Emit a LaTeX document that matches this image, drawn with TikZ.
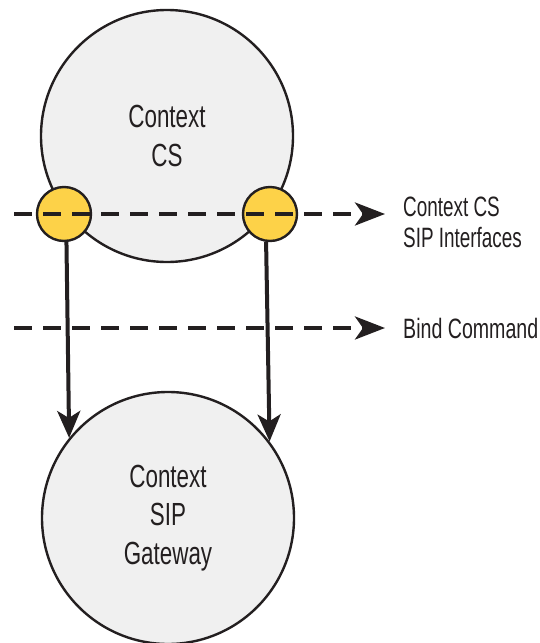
\documentclass[tikz,border=0pt]{standalone}
\usepackage{fontspec}
\setmainfont{Liberation Sans}
\usetikzlibrary{arrows.meta,calc}
\definecolor{ink}{HTML}{231F20}
\definecolor{bubble}{HTML}{F0F0F0}
\definecolor{port}{HTML}{FDD248}
\newcommand\cnd[1]{\scalebox{0.7}[1]{#1}}
\newcommand\lbl[1]{\scalebox{0.675}[1]{#1}}
\begin{document}
\begin{tikzpicture}[x=1pt,y=-1pt,
  big/.style={circle,draw=ink,line width=2.4pt,fill=bubble,minimum size=252pt,inner sep=0pt,
    text=ink,align=center,font=\fontsize{32}{38.5}\selectfont},
  portc/.style={circle,draw=ink,line width=2.4pt,fill=port,minimum size=54pt,inner sep=0pt},
  dashline/.style={draw=ink,line width=4pt,dash pattern=on 18pt off 11pt,
    -{Stealth[length=30pt,width=23pt,inset=8pt]}},
  vert/.style={draw=ink,line width=4pt,-{Stealth[length=27pt,width=23pt,inset=7pt]}},
  label/.style={anchor=west,text=ink,align=left,inner sep=0pt,font=\fontsize{28}{31}\selectfont}]
\useasboundingbox (0,0) rectangle (540,643);
\node[big] (cs) at (167,136) {\cnd{Context}\\\cnd{CS}};
\node[big] (gw) at (168,518) {\cnd{Context}\\\cnd{SIP}\\\cnd{Gateway}};
\node[portc] (p1) at (64,214) {};
\node[portc] (p2) at (270,214) {};
\coordinate (s1) at (14,214);
\coordinate (e1) at (385,214);
\coordinate (s2) at (14,328);
\coordinate (e2) at (385,328);
\draw[dashline] (s1) -- (e1);
\draw[dashline] (s2) -- (e2);
\draw[vert] (p1.-85) -- (gw.141);
\draw[vert] (p2.-98) -- (gw.37);
\node[label] (l1) at (403,222.5) {\lbl{Context CS}\\\lbl{SIP Interfaces}};
\node[label] (l2) at (403,328) {\scalebox{0.7}[1]{Bind Command}};
\end{tikzpicture}
\end{document}
